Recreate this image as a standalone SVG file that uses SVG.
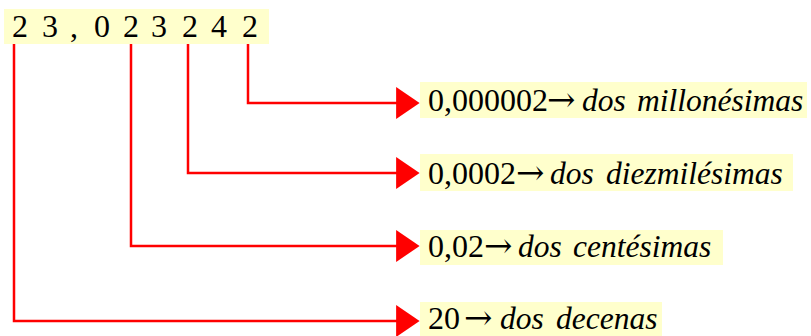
<svg xmlns="http://www.w3.org/2000/svg" width="811" height="336" viewBox="0 0 811 336">
<style>
.box{fill:#FFFFCC;stroke:none}
.t{font-size:32px;fill:#000}
.d{font-size:32px;fill:#000;text-anchor:middle}
.i{font-style:italic;font-size:31.5px}
.ar{font-size:34px}
.c{fill:none;stroke:#FF0000;stroke-width:2.5;stroke-linejoin:miter}
</style>
<defs>
<marker id="ah" markerUnits="userSpaceOnUse" markerWidth="24" markerHeight="32" viewBox="0 0 22 30" refX="13" refY="15" orient="auto">
<path d="M0,0 L22,15 L0,30 Z" fill="#FF0000"/>
</marker>
</defs>
<rect width="811" height="336" fill="#FFFFFF"/>
<g id="number">
<rect class="box" x="4" y="9" width="265" height="35"/>
<text class="d" y="37" font-family="Liberation Serif"><tspan x="20">2</tspan><tspan x="50">3</tspan><tspan x="74">,</tspan><tspan x="102">0</tspan><tspan x="131">2</tspan><tspan x="159">3</tspan><tspan x="190">2</tspan><tspan x="219">4</tspan><tspan x="250">2</tspan></text>
</g>
<g id="connectors">
<path class="c" d="M248,44 V103 H410" marker-end="url(#ah)"/>
<path class="c" d="M188,44 V173 H410" marker-end="url(#ah)"/>
<path class="c" d="M131,44 V246 H410" marker-end="url(#ah)"/>
<path class="c" d="M14,44 V321 H410" marker-end="url(#ah)"/>
</g>
<g id="millonesimas">
<rect class="box" x="420" y="82" width="387" height="36"/>
<text class="t" y="111" font-family="Liberation Serif"><tspan x="428">0,000002</tspan><tspan class="ar" x="547" font-family="DejaVu Serif">→</tspan><tspan class="i" x="582">dos</tspan><tspan class="i" x="637">millonésimas</tspan></text>
</g>
<g id="diezmilesimas">
<rect class="box" x="420" y="154" width="373" height="37"/>
<text class="t" y="184" font-family="Liberation Serif"><tspan x="428">0,0002</tspan><tspan class="ar" x="516" font-family="DejaVu Serif">→</tspan><tspan class="i" x="550">dos</tspan><tspan class="i" x="606">diezmilésimas</tspan></text>
</g>
<g id="centesimas">
<rect class="box" x="420" y="230" width="303" height="35"/>
<text class="t" y="257" font-family="Liberation Serif"><tspan x="428">0,02</tspan><tspan class="ar" x="484" font-family="DejaVu Serif">→</tspan><tspan class="i" x="518">dos</tspan><tspan class="i" x="573">centésimas</tspan></text>
</g>
<g id="decenas">
<rect class="box" x="420" y="302" width="242" height="34"/>
<text class="t" y="329" font-family="Liberation Serif"><tspan x="428">20</tspan><tspan class="ar" x="464" font-family="DejaVu Serif">→</tspan><tspan class="i" x="500">dos</tspan><tspan class="i" x="556">decenas</tspan></text>
</g>
</svg>
